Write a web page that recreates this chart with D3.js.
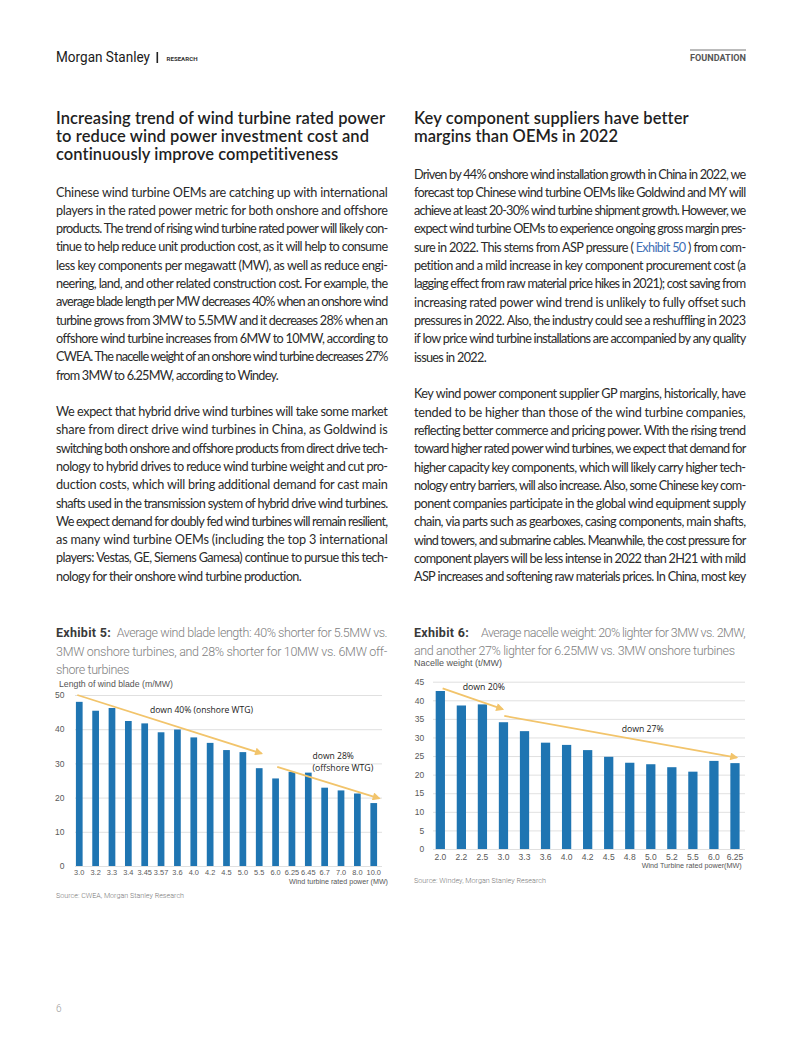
<!DOCTYPE html>
<html><head><meta charset="utf-8">
<script src="https://cdn.jsdelivr.net/npm/d3@7/dist/d3.min.js"></script>
<style>body{margin:0;background:#fff}svg{display:block}</style>
</head><body>
<svg id="page" width="802" height="1037"></svg>
<script>
// ---------- DATA ----------
const bladeCats = ["3.0","3.2","3.3","3.4","3.45","3.57","3.6","4.0","4.2","4.5","5.0","5.5","6.0","6.25","6.45","6.7","7.0","8.0","10.0"];
const bladeVals = [48.0,45.4,46.2,42.4,41.7,39.1,39.9,37.6,36.0,33.9,33.3,28.6,25.6,27.5,27.3,22.9,22.1,21.2,18.4];
const bladeTicks = [0,10,20,30,40,50];
const nacelleCats = ["2.0","2.2","2.5","3.0","3.3","3.6","4.0","4.2","4.5","4.8","5.0","5.2","5.5","6.0","6.25"];
const nacelleVals = [42.5,38.6,38.9,34.1,31.7,28.6,28.0,26.6,24.8,23.2,22.8,22.0,20.8,23.7,23.1];
const nacelleTicks = [0,5,10,15,20,25,30,35,40,45];
// arrows: [fromIndex, fromValue, toIndex, toValue]
const bladeArrows = [[-0.12,50,11.14,32.9],[12.1,29,18.33,19.8]];
const nacelleArrows = [[0.11,43.2,2.96,37.6],[3.04,35.8,14.08,24.6]];
// annotation labels: [index, value, text]
const bladeNotes = [[4.32,44.7,"down 40% (onshore WTG)"],[14.26,31.3,"down 28%"],[14.26,27.9,"(offshore WTG)"]];
const nacelleNotes = [[1.06,42.7,"down 20%"],[8.62,31.45,"down 27%"]];

const leftHeading = ["Increasing trend of wind turbine rated power","to reduce wind power investment cost and","continuously improve competitiveness"];
const rightHeading = ["Key component suppliers have better","margins than OEMs in 2022"];
const leftPara1 = ["Chinese wind turbine OEMs are catching up with international",
"players in the rated power metric for both onshore and offshore",
"products. The trend of rising wind turbine rated power will likely con-",
"tinue to help reduce unit production cost, as it will help to consume",
"less key components per megawatt (MW), as well as reduce engi-",
"neering, land, and other related construction cost. For example, the",
"average blade length per MW decreases 40% when an onshore wind",
"turbine grows from 3MW to 5.5MW and it decreases 28% when an",
"offshore wind turbine increases from 6MW to 10MW, according to",
"CWEA. The nacelle weight of an onshore wind turbine decreases 27%",
"from 3MW to 6.25MW, according to Windey."];
const leftPara2 = ["We expect that hybrid drive wind turbines will take some market",
"share from direct drive wind turbines in China, as Goldwind is",
"switching both onshore and offshore products from direct drive tech-",
"nology to hybrid drives to reduce wind turbine weight and cut pro-",
"duction costs, which will bring additional demand for cast main",
"shafts used in the transmission system of hybrid drive wind turbines.",
"We expect demand for doubly fed wind turbines will remain resilient,",
"as many wind turbine OEMs (including the top 3 international",
"players: Vestas, GE, Siemens Gamesa) continue to pursue this tech-",
"nology for their onshore wind turbine production."];
const rightPara1 = ["Driven by 44% onshore wind installation growth in China in 2022, we",
"forecast top Chinese wind turbine OEMs like Goldwind and MY will",
"achieve at least 20-30% wind turbine shipment growth. However, we",
"expect wind turbine OEMs to experience ongoing gross margin pres-",
"sure in 2022. This stems from ASP pressure ( Exhibit 50 ) from com-",
"petition and a mild increase in key component procurement cost (a",
"lagging effect from raw material price hikes in 2021); cost saving from",
"increasing rated power wind trend is unlikely to fully offset such",
"pressures in 2022. Also, the industry could see a reshuffling in 2023",
"if low price wind turbine installations are accompanied by any quality",
"issues in 2022."];
const rightPara2 = ["Key wind power component supplier GP margins, historically, have",
"tended to be higher than those of the wind turbine companies,",
"reflecting better commerce and pricing power. With the rising trend",
"toward higher rated power wind turbines, we expect that demand for",
"higher capacity key components, which will likely carry higher tech-",
"nology entry barriers, will also increase. Also, some Chinese key com-",
"ponent companies participate in the global wind equipment supply",
"chain, via parts such as gearboxes, casing components, main shafts,",
"wind towers, and submarine cables. Meanwhile, the cost pressure for",
"component players will be less intense in 2022 than 2H21 with mild",
"ASP increases and softening raw materials prices. In China, most key"];

// ---------- HELPERS ----------
const svg = d3.select('#page');
const BODY = {family:'Lato, "Open Sans", sans-serif', size:12.7, weight:400, color:'#2a2a2a'};
const HEAD = {family:'Lato, "Open Sans", sans-serif', size:16.5, weight:600, color:'#1f1f1f'};
const CAP = {family:'Roboto, sans-serif', size:12.5, weight:300, color:'#808080'};
const CAPB = {family:'Roboto, sans-serif', size:12.5, weight:700, color:'#3a3a3a'};
const ARIAL = '"Liberation Sans", Arial, sans-serif';

function styleText(t, f){
  return t.style('font-family', f.family).style('font-size', f.size+'px')
    .style('font-weight', f.weight).attr('fill', f.color);
}
function len(t){ return t.node().getComputedTextLength(); }

function line(g, str, x, y, width, mode, f, blue){
  const t = styleText(g.append('text').attr('x', x).attr('y', y), f).text(str);
  if (mode === 'none') return t;
  const L = len(t);
  if (mode === 'fit'){
    let ls = (width - L) / Math.max(1, str.length - 1);
    ls = Math.max(-1.5, Math.min(1.5, ls));
    t.style('letter-spacing', ls + 'px');
    return t;
  }
  const words = str.split(' ');
  const n = words.length;
  let ls = 0;
  if (L > width){ ls = (width - L) / str.length; t.style('letter-spacing', ls + 'px'); }
  const ws = words.map(w => { t.text(w); return len(t); });
  const gap = n > 1 ? (width - d3.sum(ws)) / (n - 1) : 0;
  t.text(null);
  let cx = x;
  words.forEach((w, i) => {
    const sp = t.append('tspan').attr('x', cx).text(w);
    if (blue && blue.includes(w)) sp.attr('fill', '#3f6fb5');
    cx += ws[i] + gap;
  });
  return t;
}

function paragraph(g, lines, x, y0, lh, width, lastWidth, blueMap){
  lines.forEach((s, i) => {
    const last = i === lines.length - 1;
    const mode = last ? (lastWidth ? 'fit' : 'justify') : 'justify';
    line(g, s, x, y0 + i*lh, last && lastWidth ? lastWidth : width, mode, BODY, blueMap && blueMap[i]);
  });
}

// ---------- HEADER ----------
svg.append('text').attr('x', 56).attr('y', 62).attr('textLength', 94).attr('lengthAdjust', 'spacingAndGlyphs')
  .style('font-family', 'Roboto, sans-serif').style('font-size', '15px').attr('fill', '#1a1a1a').text('Morgan Stanley');
svg.append('rect').attr('x', 156.5).attr('y', 52).attr('width', 1.6).attr('height', 11).attr('fill', '#222');
svg.append('text').attr('x', 166.5).attr('y', 60.5).attr('textLength', 31).attr('lengthAdjust', 'spacingAndGlyphs')
  .style('font-family', 'Roboto, sans-serif').style('font-size', '6px').style('font-weight', 700).attr('fill', '#333').text('RESEARCH');
svg.append('line').attr('x1', 690).attr('x2', 746).attr('y1', 50).attr('y2', 50).attr('stroke', '#777').attr('stroke-width', 1);
svg.append('text').attr('x', 690).attr('y', 61).attr('textLength', 56).attr('lengthAdjust', 'spacingAndGlyphs')
  .style('font-family', 'Roboto, sans-serif').style('font-size', '8.5px').style('font-weight', 700).attr('fill', '#555').text('FOUNDATION');

// ---------- HEADINGS ----------
const hg = svg.append('g');
const lhW = [329, 313, 283];
leftHeading.forEach((s, i) => line(hg, s, 56, 124 + i*18, lhW[i], 'fit', HEAD));
const rhW = [274, 204];
rightHeading.forEach((s, i) => line(hg, s, 414, 124 + i*18, rhW[i], 'fit', HEAD));

// ---------- BODY ----------
const bg = svg.append('g');
paragraph(bg, leftPara1, 56, 196.5, 18.3, 331.5, 222.7);
paragraph(bg, leftPara2, 56, 416, 18.3, 331.5, 246);
paragraph(bg, rightPara1, 414, 178.5, 18.3, 331.5, 72.7, {4:['Exhibit','50']});
paragraph(bg, rightPara2, 414, 398.3, 18.3, 331.5, null);

// ---------- CAPTIONS ----------
const cg = svg.append('g');
line(cg, 'Exhibit 5:', 56, 637, 54.7, 'fit', CAPB);
line(cg, 'Average wind blade length: 40% shorter for 5.5MW vs.', 116.7, 637, 270.5, 'justify', CAP);
line(cg, '3MW onshore turbines, and 28% shorter for 10MW vs. 6MW off-', 56, 655.5, 331, 'justify', CAP);
line(cg, 'shore turbines', 56, 673.5, 73.3, 'fit', CAP);
line(cg, 'Exhibit 6:', 414, 637, 54.7, 'fit', CAPB);
line(cg, 'Average nacelle weight: 20% lighter for 3MW vs. 2MW,', 481, 637, 264, 'justify', CAP);
line(cg, 'and another 27% lighter for 6.25MW vs. 3MW onshore turbines', 414, 654.5, 321, 'fit', CAP);

// ---------- CHARTS ----------
svg.append('defs').append('marker').attr('id', 'ah').attr('viewBox', '0 0 10 10')
  .attr('refX', 8).attr('refY', 5).attr('markerWidth', 9).attr('markerHeight', 8)
  .attr('markerUnits', 'userSpaceOnUse').attr('orient', 'auto')
  .append('path').attr('d', 'M0,0 L10,5 L0,10 Z').attr('fill', '#f2c46b');

function barChart(o){
  const g = svg.append('g');
  const x = d3.scaleBand().domain(o.cats).range(o.xr).paddingInner(o.pi).paddingOuter(o.po);
  const y = d3.scaleLinear().domain(o.yd).range(o.yr);
  const xi = i => x(o.cats[0]) + x.bandwidth()/2 + i * x.step();
  // y axis with gridlines
  const ya = g.append('g').attr('transform', `translate(${o.gx0},0)`)
    .call(d3.axisLeft(y).tickValues(o.ticks).tickSize(-(o.gx1 - o.gx0)).tickPadding(o.ypad));
  ya.select('.domain').remove();
  ya.selectAll('.tick line').attr('stroke', '#dcdcdc').attr('stroke-width', 0.9);
  ya.selectAll('.tick text').attr('fill', '#595959').style('font-family', ARIAL).style('font-size', o.yfs + 'px');
  // bars
  g.append('g').selectAll('rect').data(o.vals).join('rect')
    .attr('x', (d, i) => x(o.cats[i])).attr('width', x.bandwidth())
    .attr('y', d => y(d)).attr('height', d => y(0) - y(d)).attr('fill', '#1f75b2');
  // x axis
  const xa = g.append('g').attr('transform', `translate(0,${o.yr[0]})`)
    .call(d3.axisBottom(x).tickSize(0).tickPadding(o.xpad));
  xa.select('.domain').remove();
  xa.selectAll('.tick text').attr('fill', '#595959').style('font-family', ARIAL).style('font-size', o.xfs + 'px');
  // arrows
  g.append('g').selectAll('line').data(o.arrows).join('line')
    .attr('x1', d => xi(d[0])).attr('y1', d => y(d[1])).attr('x2', d => xi(d[2])).attr('y2', d => y(d[3]))
    .attr('stroke', '#f2c46b').attr('stroke-width', 1.8).attr('marker-end', 'url(#ah)');
  // notes
  g.append('g').selectAll('text').data(o.notes).join('text')
    .attr('x', d => xi(d[0])).attr('y', d => y(d[1]))
    .style('font-family', '"Open Sans", Lato, sans-serif').style('font-size', '9.6px').attr('fill', '#1a1a1a')
    .text(d => d[2])
    .each(function(d){ const w = o.noteW[d[2]]; if (w) d3.select(this).attr('textLength', w).attr('lengthAdjust', 'spacingAndGlyphs'); });
  // titles
  g.append('text').attr('x', o.ytitle[0]).attr('y', o.ytitle[1]).attr('textLength', o.ytitle[2]).attr('lengthAdjust', 'spacingAndGlyphs')
    .style('font-family', ARIAL).style('font-size', '9px').attr('fill', '#555').text(o.ytitle[3]);
  g.append('text').attr('x', o.xtitle[0]).attr('y', o.xtitle[1]).attr('text-anchor', 'end').attr('textLength', o.xtitle[2]).attr('lengthAdjust', 'spacingAndGlyphs')
    .style('font-family', ARIAL).style('font-size', '8px').attr('fill', '#555').text(o.xtitle[3]);
  g.append('text').attr('x', o.src[0]).attr('y', o.src[1]).attr('textLength', o.src[2]).attr('lengthAdjust', 'spacingAndGlyphs')
    .style('font-family', 'Roboto, sans-serif').style('font-size', '8px').style('font-weight', 300).attr('fill', '#777').text(o.src[3]);
}

barChart({cats: bladeCats, vals: bladeVals, ticks: bladeTicks, xr: [71, 382], pi: 0.59, po: 0.3,
  yd: [0, 50], yr: [866, 695], gx0: 75, gx1: 382, ypad: 10.5, yfs: 8.5, xpad: 3.5, xfs: 7.4,
  arrows: bladeArrows, notes: bladeNotes,
  noteW: {"down 40% (onshore WTG)": 103, "down 28%": 41.3, "(offshore WTG)": 60.7},
  ytitle: [59, 687, 114, 'Length of wind blade (m/MW)'],
  xtitle: [388, 884, 99, 'Wind turbine rated power (MW)'],
  src: [56, 897.5, 128, 'Source: CWEA, Morgan Stanley Research']});

barChart({cats: nacelleCats, vals: nacelleVals, ticks: nacelleTicks, xr: [429.8, 745.5], pi: 0.56, po: 0.28,
  yd: [0, 45], yr: [849, 681.7], gx0: 433, gx1: 745, ypad: 8.7, yfs: 8.5, xpad: 5, xfs: 8.5,
  arrows: nacelleArrows, notes: nacelleNotes,
  noteW: {"down 20%": 42.3, "down 27%": 42},
  ytitle: [414, 666, 88, 'Nacelle weight (t/MW)'],
  xtitle: [741.7, 867.5, 100, 'Wind Turbine rated power(MW)'],
  src: [414, 883, 132, 'Source: Windey, Morgan Stanley Research']});

// page number
svg.append('text').attr('x', 56).attr('y', 1012).style('font-family', 'Roboto, sans-serif').style('font-size', '10px')
  .style('font-weight', 300).attr('fill', '#999').text('6');
</script>
</body></html>
